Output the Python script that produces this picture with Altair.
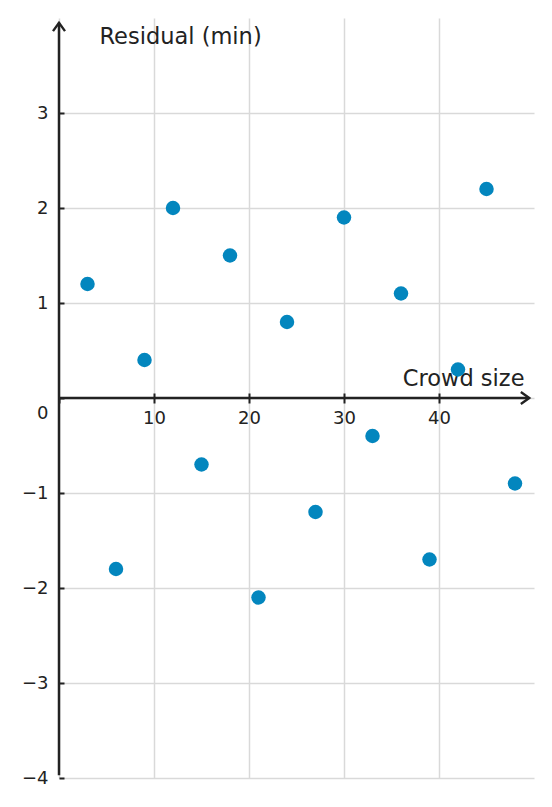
import altair as alt
import pandas as pd

# data
crowd_size = [3, 6, 9, 12, 15, 18, 21, 24, 27, 30, 33, 36, 39, 42, 45, 48]
residual = [1.2, -1.8, 0.4, 2.0, -0.7, 1.5, -2.1, 0.8, -1.2, 1.9, -0.4, 1.1, -1.7, 0.3, 2.2, -0.9]
x_ticks = [0, 10, 20, 30, 40]
y_ticks = [-4, -3, -2, -1, 0, 1, 2, 3]
x_domain = [0, 50]
y_domain = [-4, 4]
x_axis_end = 49.5
y_axis_end = [-3.97, 3.95]

FONT = "DejaVu Sans"
INK = "#222222"
W, H = 475, 760

df = pd.DataFrame({"x": crowd_size, "y": residual})
xs = alt.Scale(domain=x_domain, nice=False, zero=False)
ys = alt.Scale(domain=y_domain, nice=False, zero=False)

points = alt.Chart(df).mark_circle(size=210, opacity=1, color="#0386BE").encode(
    x=alt.X("x:Q", scale=xs, axis=alt.Axis(
        orient="bottom", offset=-380, values=x_ticks, grid=True, domain=False,
        ticks=True, tickSize=5, tickWidth=2, tickColor=INK,
        labelExpr="datum.value == 0 ? '' : datum.label",
        labelPadding=6, title="Crowd size", titleX=465, titleY=-13,
        titleAlign="right", titleBaseline="alphabetic")),
    y=alt.Y("y:Q", scale=ys, axis=alt.Axis(
        orient="left", values=y_ticks, grid=True, domain=False, ticks=False,
        labelPadding=11,
        labelOffset={"condition": {"test": "datum.value === 0", "value": 15}, "value": 0},
        title="Residual (min)", titleAngle=0, titleX=40, titleY=25,
        titleAlign="left", titleBaseline="alphabetic")),
)

# axis lines through the origin
xline = pd.DataFrame({"x": [0], "x2": [x_axis_end], "y": [0]})
x_rule = alt.Chart(xline).mark_rule(color=INK, strokeWidth=2.5).encode(
    x=alt.X("x:Q", scale=xs, axis=alt.Axis(
        orient="top", offset=-380, values=x_ticks[1:], grid=False, domain=False,
        labels=False, ticks=True, tickSize=5, tickWidth=2, tickColor=INK, title=None)),
    x2="x2:Q",
    y=alt.Y("y:Q", scale=ys, axis=alt.Axis(
        orient="right", offset=-W, values=y_ticks, grid=False, domain=False,
        labels=False, ticks=True, tickSize=5, tickWidth=2, tickColor=INK, title=None)),
)

yline = pd.DataFrame({"x": [0], "y": [y_axis_end[0]], "y2": [y_axis_end[1]]})
y_rule = alt.Chart(yline).mark_rule(color=INK, strokeWidth=2.5).encode(
    x=alt.X("x:Q", scale=xs, axis=None),
    y=alt.Y("y:Q", scale=ys, axis=None),
    y2="y2:Q",
)

arrow_x = alt.Chart(pd.DataFrame({"x": [x_axis_end], "y": [0]})).mark_point(
    shape="M-1.4,-1L0,0L-1.4,1", size=144, filled=False, color=INK, strokeWidth=2.4, opacity=1
).encode(x=alt.X("x:Q", scale=xs, axis=None), y=alt.Y("y:Q", scale=ys, axis=None))

arrow_y = alt.Chart(pd.DataFrame({"x": [0], "y": [y_axis_end[1]]})).mark_point(
    shape="M-1,1.4L0,0L1,1.4", size=144, filled=False, color=INK, strokeWidth=2.4, opacity=1
).encode(x=alt.X("x:Q", scale=xs, axis=None), y=alt.Y("y:Q", scale=ys, axis=None))

chart = alt.layer(points, x_rule, y_rule, arrow_x, arrow_y).resolve_axis(
    x="independent", y="independent"
).properties(
    width=W, height=H,
    autosize=alt.AutoSizeParams(type="none"),
    padding={"left": 51, "top": 10, "right": 10, "bottom": 21},
).configure_view(stroke=None).configure_axis(
    gridColor="#d9d9d9", gridWidth=1.5,
    labelFont=FONT, labelFontSize=18, labelColor=INK,
    titleFont=FONT, titleFontSize=22.5, titleColor=INK, titleFontWeight="normal",
)

chart.save("out.html", embed_options={"renderer": "svg", "actions": False})
